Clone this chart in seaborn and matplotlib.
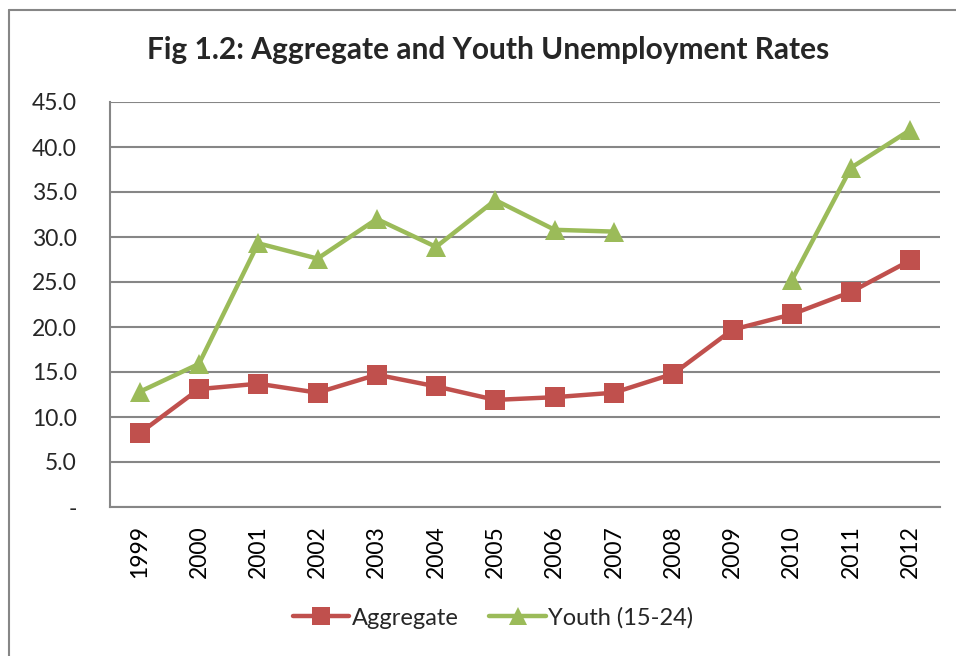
"""
Fig 1.2: Aggregate and Youth Unemployment Rates (line chart recreation).
"""

import matplotlib
matplotlib.use("Agg")
import matplotlib.pyplot as plt
from matplotlib.lines import Line2D
import seaborn as sns
import pandas as pd
import numpy as np

YEARS = list(range(1999, 2013))
AGGREGATE = [8.2, 13.1, 13.7, 12.7, 14.7, 13.4, 11.9, 12.2, 12.7, 14.8, 19.7, 21.4, 23.9, 27.4]
YOUTH = [12.8, 15.9, 29.3, 27.6, 32.0, 28.9, 34.1, 30.8, 30.6, np.nan, np.nan, 25.2, 37.7, 41.9]
Y_TICKS = [0, 5, 10, 15, 20, 25, 30, 35, 40, 45]
Y_TICK_LABELS = ["-", "5.0", "10.0", "15.0", "20.0", "25.0", "30.0", "35.0", "40.0", "45.0"]

RED = "#C0504D"
GREEN = "#9BBB59"
GRID = "#868686"

sns.set_theme(style="white")
plt.rcParams["font.family"] = ["Lato", "DejaVu Sans"]

# Long-form table; a segment id breaks the youth line at the missing years
rows = []
for name, values in [("Aggregate", AGGREGATE), ("Youth (15-24)", YOUTH)]:
    seg = 0
    for yr, v in zip(YEARS, values):
        if np.isnan(v):
            seg += 1
            continue
        rows.append({"year": yr, "rate": v, "series": name, "seg": f"{name}-{seg}"})
df = pd.DataFrame(rows)

fig = plt.figure(figsize=(9.56, 6.56), dpi=100)
ax = fig.add_axes([110 / 956, 1 - 507 / 656, 830 / 956, 405 / 656])

sns.lineplot(
    data=df, x="year", y="rate", hue="series", style="series", units="seg",
    estimator=None, palette={"Aggregate": RED, "Youth (15-24)": GREEN},
    markers={"Aggregate": "s", "Youth (15-24)": "^"}, dashes=False,
    linewidth=3.2, markersize=14, markeredgewidth=0, legend=False, ax=ax,
    sort=True,
)

ax.set_xlim(1998.5, 2012.5)
ax.set_ylim(0, 45)
ax.set_yticks(Y_TICKS)
ax.set_yticklabels(Y_TICK_LABELS, fontsize=16.5)
ax.set_xticks(YEARS)
ax.set_xticklabels([str(y) for y in YEARS], rotation=90, fontsize=16.5)
ax.set_xticks(np.arange(1998.5, 2013, 1), minor=True)
ax.tick_params(axis="x", which="major", length=0, pad=13, colors="black")
ax.tick_params(axis="x", which="minor", length=7, width=1.5, color=GRID, direction="out")
ax.tick_params(axis="y", length=7, width=1.5, color=GRID, direction="out", pad=17)
ax.yaxis.grid(True, color=GRID, linewidth=1.5)
ax.set_axisbelow(True)
for side in ["top", "right"]:
    ax.spines[side].set_visible(False)
for side in ["left", "bottom"]:
    ax.spines[side].set_color(GRID)
    ax.spines[side].set_linewidth(1.5)
ax.set_xlabel("")
ax.set_ylabel("")

fig.text(488 / 956, 1 - 50 / 656, "Fig 1.2: Aggregate and Youth Unemployment Rates",
         ha="center", va="center", fontsize=21.5, fontweight="bold")

handles = [
    Line2D([], [], color=RED, lw=3.2, marker="s", markersize=13, markeredgewidth=0),
    Line2D([], [], color=GREEN, lw=3.2, marker="^", markersize=13, markeredgewidth=0),
]
fig.legend(handles, ["Aggregate", "Youth (15-24)"], loc="center",
           bbox_to_anchor=(493 / 956, 1 - 618 / 656), ncol=2, frameon=False,
           fontsize=17, handlelength=2.4, handletextpad=0.1, columnspacing=1.3)

# chart-area border (top and left visible in the reference)
fig.add_artist(Line2D([9 / 956, 1.0], [1 - 10 / 656] * 2, transform=fig.transFigure,
                      color=GRID, lw=1.5))
fig.add_artist(Line2D([9 / 956] * 2, [1 - 10 / 656, 0.0], transform=fig.transFigure,
                      color=GRID, lw=1.5))

fig.savefig("out.png", dpi=100)
